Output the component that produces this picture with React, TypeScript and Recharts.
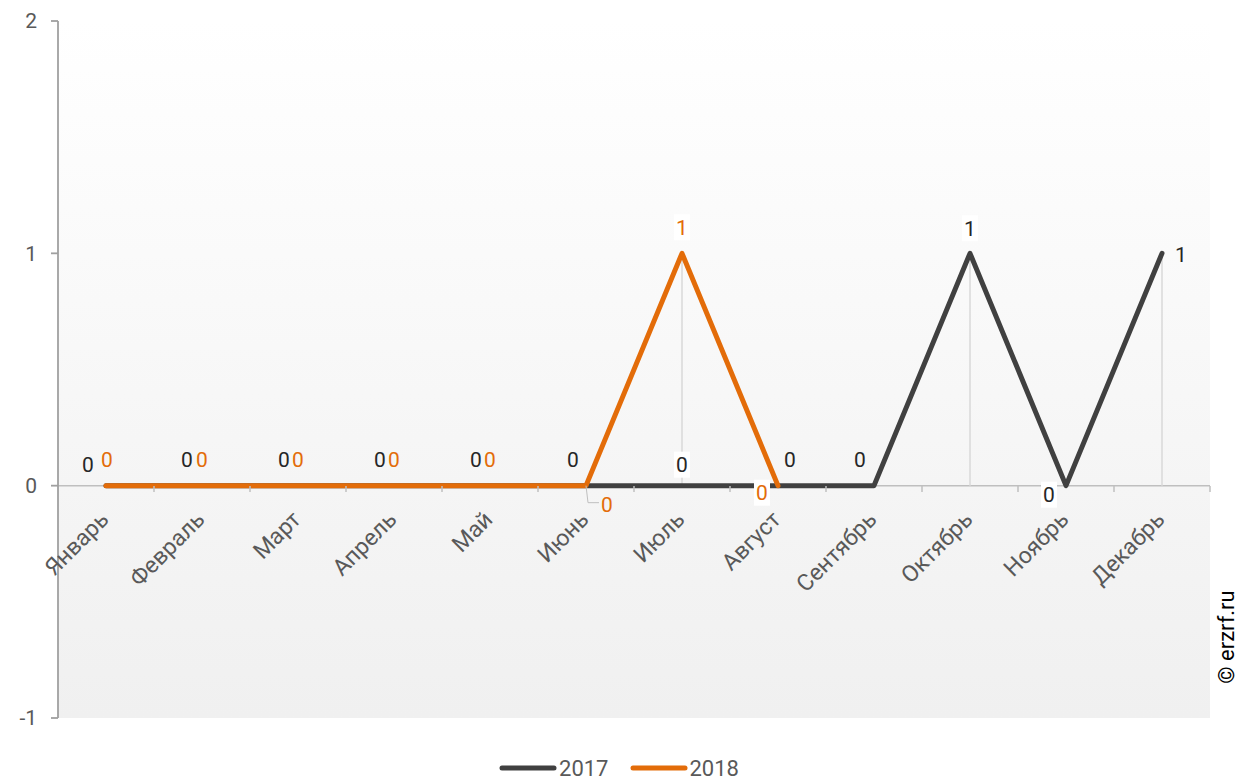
import React from 'react';
import { LineChart, Line, XAxis, YAxis, CartesianGrid, ReferenceLine, LabelList, Legend } from 'recharts';

const months = ['Январь', 'Февраль', 'Март', 'Апрель', 'Май', 'Июнь', 'Июль', 'Август', 'Сентябрь', 'Октябрь', 'Ноябрь', 'Декабрь'];
const values2017: (number | null)[] = [0, 0, 0, 0, 0, 0, 0, 0, 0, 1, 0, 1];
const values2018: (number | null)[] = [0, 0, 0, 0, 0, 0, 1, 0, null, null, null, null];
const yTicks = [-1, 0, 1, 2];
const seriesNames = ['2017', '2018'];
const seriesColors = ['#404040', '#e36c09'];
const labelColors = ['#262626', '#e36c09'];

const data = months.map((m, i) => ({ month: m, s2017: values2017[i], s2018: values2018[i] }));

// label placement (style only): [dx, dy, whiteBox, leader]
type Place = [number, number, boolean, boolean];
const place2017: Place[] = [
  [-18, -21, false, false], [-15, -26, false, false], [-14, -26, false, false], [-14, -26, false, false],
  [-14, -26, false, false], [-13, -26, false, false], [0, -21, true, false], [12, -26, false, false],
  [-14, -26, false, false], [0, -25, true, false], [-17, 9, true, false], [19, 1, false, false],
];
const place2018: Place[] = [
  [1, -26, false, false], [0, -26, false, false], [0, -26, false, false], [0, -26, false, false],
  [0, -26, false, false], [21, 19, false, true], [0, -26, true, false], [-16, 7, true, false],
  [0, 0, false, false], [0, 0, false, false], [0, 0, false, false], [0, 0, false, false],
];

const FONT = 'Roboto, "Noto Sans", sans-serif';

const makeLabel = (color: string, places: Place[]) => (props: any) => {
  const { x, y, value, index } = props;
  if (value === null || value === undefined) return null;
  const [dx, dy, box, leader] = places[index];
  const cx = x + dx;
  const cy = y + dy;
  return (
    <g>
      {leader && (
        <polyline points={`${x},${y} ${x + 2},${cy - 2} ${cx - 8},${cy - 2}`} fill="none" stroke="#bfbfbf" strokeWidth={1} />
      )}
      {box && <rect x={cx - 8} y={cy - 13} width={16} height={26} fill="#ffffff" />}
      <text x={cx} y={cy} dy="0.36em" textAnchor="middle" fontSize={21} fontFamily={FONT} fill={color}>
        {value}
      </text>
    </g>
  );
};

const MonthTick = (props: any) => {
  const { x, y, payload } = props;
  const off = payload && typeof payload.offset === 'number' ? payload.offset : 48;
  return (
    <g>
      <line x1={x + off} y1={y} x2={x + off} y2={y + 6} stroke="#bfbfbf" strokeWidth={1.5} />
      <text
        x={0}
        y={0}
        transform={`translate(${x + 4},${y + 35}) rotate(-45)`}
        textAnchor="end"
        fontSize={23}
        fontFamily={FONT}
        fill="#595959"
      >
        {payload.value}
      </text>
    </g>
  );
};

const LegendContent = () => (
  <div style={{ height: 26, display: 'flex', justifyContent: 'center', alignItems: 'center', fontFamily: FONT, paddingRight: 10 }}>
    {seriesNames.map((n, i) => (
      <div key={n} style={{ display: 'flex', alignItems: 'center', marginRight: i === 0 ? 21 : 0 }}>
        <svg width={58} height={10} style={{ marginRight: 2 }}>
          <line x1={3} y1={5} x2={55} y2={5} stroke={seriesColors[i]} strokeWidth={5} strokeLinecap="round" />
        </svg>
        <span style={{ fontSize: 22, color: '#595959' }}>{n}</span>
      </div>
    ))}
  </div>
);

const dropLines: { m: string; v: number }[] = [];
months.forEach((m, i) => {
  const v = Math.max(values2017[i] ?? 0, values2018[i] ?? 0);
  if (v > 0) dropLines.push({ m, v });
});

export default function App() {
  return (
    <div style={{ position: 'absolute', left: 0, top: 0, width: 1248, height: 781 }}>
      <div style={{ position: 'absolute', left: 0, top: 0 }}>
        <LineChart width={1248} height={781} data={data} margin={{ top: 21, right: 38, left: 0, bottom: 37 }}>
          <defs>
            <linearGradient id="plotBg" x1="0" y1="0" x2="0" y2="1">
              <stop offset="0%" stopColor="#ffffff" />
              <stop offset="100%" stopColor="#f0f0f0" />
            </linearGradient>
          </defs>
          <CartesianGrid horizontal={false} vertical={false} fill="url(#plotBg)" stroke="none" />
          <XAxis dataKey="month" scale="band" hide />
          <YAxis
            width={58}
            domain={[-1, 2]}
            ticks={yTicks}
            interval={0}
            axisLine={{ stroke: '#a0a0a0', strokeWidth: 1.8 }}
            tickLine={{ stroke: '#a0a0a0', strokeWidth: 1.8 }}
            tickSize={7}
            tickMargin={14}
            tick={{ fontSize: 21, fill: '#595959', fontFamily: FONT }}
          />
          <ReferenceLine y={0} stroke="#bfbfbf" strokeWidth={1.5} />
          {dropLines.map((d) => (
            <ReferenceLine
              key={d.m}
              segment={[{ x: d.m, y: 0 }, { x: d.m, y: d.v }]}
              stroke="#d9d9d9"
              strokeWidth={1.5}
            />
          ))}
          <Legend
            verticalAlign="bottom"
            align="center"
            content={<LegendContent />}
            wrapperStyle={{ bottom: 0, left: 0, width: 1248 }}
          />
          <Line
            type="linear"
            dataKey="s2017"
            name={seriesNames[0]}
            stroke={seriesColors[0]}
            strokeWidth={5}
            strokeLinecap="round"
            strokeLinejoin="round"
            dot={false}
            activeDot={false}
            isAnimationActive={false}
          >
            <LabelList dataKey="s2017" content={makeLabel(labelColors[0], place2017)} />
          </Line>
          <Line
            type="linear"
            dataKey="s2018"
            name={seriesNames[1]}
            stroke={seriesColors[1]}
            strokeWidth={5}
            strokeLinecap="round"
            strokeLinejoin="round"
            dot={false}
            activeDot={false}
            isAnimationActive={false}
          >
            <LabelList dataKey="s2018" content={makeLabel(labelColors[1], place2018)} />
          </Line>
        </LineChart>
      </div>
      <div style={{ position: 'absolute', left: 0, top: 0, pointerEvents: 'none' }}>
        <LineChart width={1248} height={781} data={data} margin={{ top: 21, right: 38, left: 58, bottom: 0 }}>
          <XAxis
            dataKey="month"
            scale="band"
            height={295}
            interval={0}
            axisLine={false}
            tickLine={false}
            tickSize={0}
            tickMargin={0}
            tick={<MonthTick />}
          />
        </LineChart>
      </div>
      <div
        style={{
          position: 'absolute',
          left: 1226,
          top: 637,
          transform: 'translate(-50%, -50%) rotate(-90deg)',
          fontFamily: FONT,
          fontSize: 22,
          color: '#000000',
          whiteSpace: 'nowrap',
        }}
      >
        © erzrf.ru
      </div>
    </div>
  );
}
